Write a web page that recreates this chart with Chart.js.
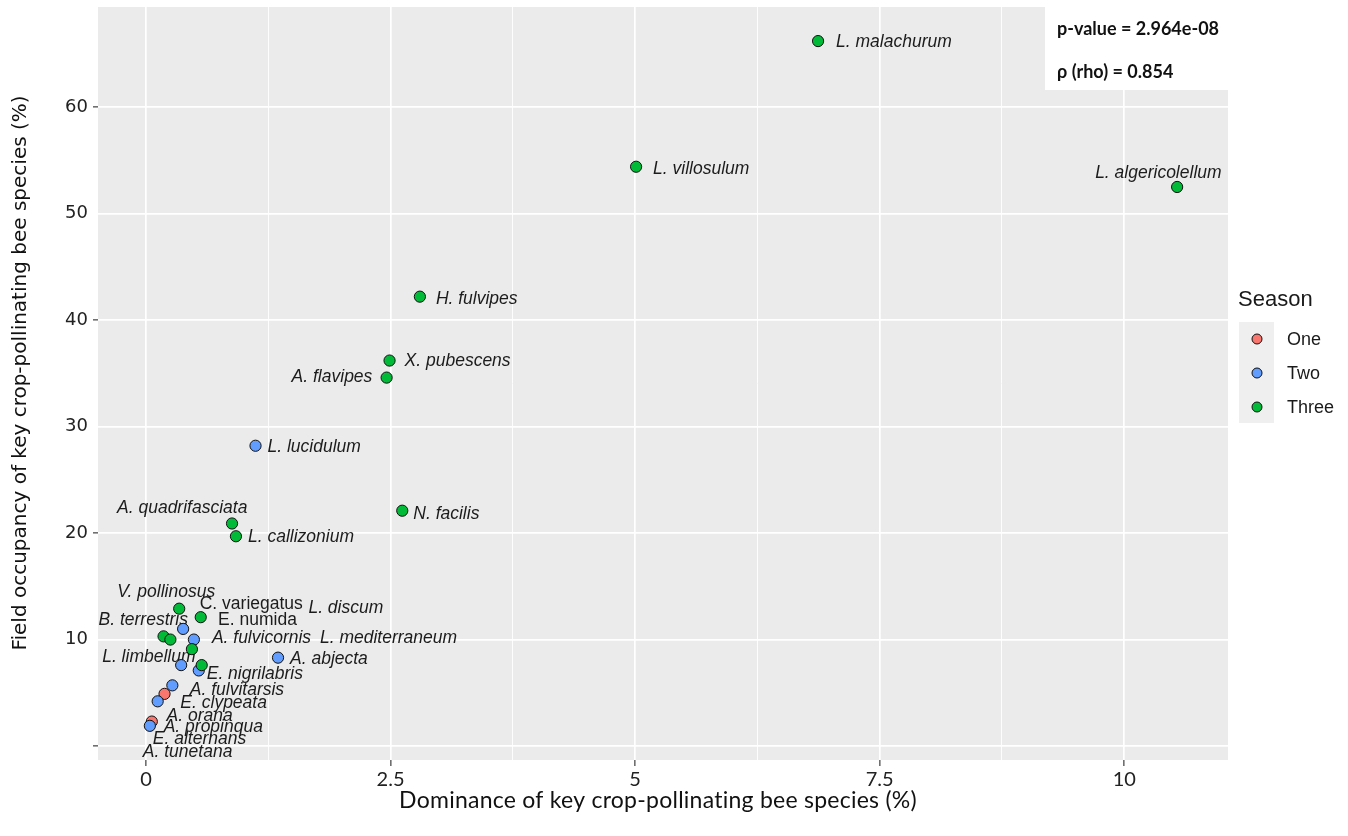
<!DOCTYPE html>
<html>
<head>
<meta charset="utf-8">
<script src="https://cdn.jsdelivr.net/npm/chart.js@4/dist/chart.umd.min.js"></script>
<style>
  html, body { margin: 0; padding: 0; background: #ffffff; }
  #wrap { width: 1348px; height: 836px; position: relative; }
</style>
</head>
<body>
<div id="wrap"><canvas id="chart" width="1348" height="836"></canvas></div>
<script>
// Bee species: dominance (%) vs field occupancy (%), coloured by number of seasons
const species = [
  'L. malachurum', 'L. villosulum', 'L. algericolellum', 'H. fulvipes', 'X. pubescens',
  'A. flavipes', 'L. lucidulum', 'N. facilis', 'A. quadrifasciata', 'L. callizonium',
  'V. pollinosus', 'C. variegatus', 'E. numida', 'B. terrestris', 'L. discum',
  'A. fulvicornis', 'L. mediterraneum', 'A. abjecta', 'L. limbellum', 'E. nigrilabris',
  'A. fulvitarsis', 'E. clypeata', 'A. orana', 'A. propinqua', 'E. alternans', 'A. tunetana'
];
const dominance = [
  6.87, 5.01, 10.54, 2.80, 2.49,
  2.46, 1.12, 2.62, 0.88, 0.92,
  0.34, 0.56, 0.38, 0.18, 0.25,
  0.49, 0.47, 1.35, 0.36, 0.57,
  0.54, 0.27, 0.19, 0.12, 0.06, 0.04
];
const occupancy = [
  66.2, 54.4, 52.5, 42.2, 36.2,
  34.6, 28.2, 22.1, 20.9, 19.7,
  12.9, 12.1, 11.0, 10.3, 10.0,
  10.0, 9.1, 8.3, 7.6, 7.6,
  7.1, 5.7, 4.9, 4.2, 2.3, 1.9
];
const season = [
  'Three', 'Three', 'Three', 'Three', 'Three',
  'Three', 'Two', 'Three', 'Three', 'Three',
  'Three', 'Three', 'Two', 'Three', 'Three',
  'Two', 'Three', 'Two', 'Two', 'Three',
  'Two', 'Two', 'One', 'Two', 'One', 'Two'
];
const seasons = ['One', 'Two', 'Three'];
const seasonColours = ['#F8766D', '#619CFF', '#00BA38'];

const xTickValues = [0, 2.5, 5, 7.5, 10];
const xTickLabels = ['0', '2.5', '5', '7.5', '10'];
const yTickValues = [0, 10, 20, 30, 40, 50, 60];
const yTickLabels = ['', '10', '20', '30', '40', '50', '60'];
const yTickMarked = [0, 20, 40, 60];

const pValueText = 'p-value = 2.964e-08';
const rhoText = 'ρ (rho) = 0.854';
const xTitle = 'Dominance of key crop-pollinating bee species (%)';
const yTitle = 'Field occupancy of key crop-pollinating bee species (%)';
const legendTitle = 'Season';

// Text placement of each species name relative to its point (pixels), repelled by hand
const labelNudge = [
  [18, 1], [17, 2], [-82, -14], [16, 2], [15, 1],
  [-95, 0], [12, 1], [11, 3], [-115, -15], [12, 1],
  [-62, -17], [-1, -13], [35, -9], [-65, -16], [138, -31],
  [18, -1], [128, -11], [12, 1], [-79, -8], [5, 9],
  [-9, 20], [8, 18], [2, 22], [6, 26], [1, 18], [-7, 26]
];
const uprightNames = ['C. variegatus', 'E. numida'];

// Minor grid positions sit halfway between labelled x ticks
const xGridValues = [];
xTickValues.forEach((v, i) => {
  xGridValues.push(v);
  if (i < xTickValues.length - 1) xGridValues.push((v + xTickValues[i + 1]) / 2);
});

const datasets = seasons.map((s, si) => {
  const pts = [];
  species.forEach((name, i) => {
    if (season[i] === s) pts.push({ x: dominance[i], y: occupancy[i], idx: i });
  });
  return {
    label: s,
    data: pts,
    backgroundColor: seasonColours[si],
    borderColor: '#111111',
    borderWidth: 1,
    pointRadius: 5.6,
    pointHoverRadius: 5.6,
    order: 3 - si
  };
});

const panelBg = {
  id: 'panelBg',
  beforeDraw(chart) {
    const { ctx, chartArea: a } = chart;
    ctx.save();
    ctx.fillStyle = '#EBEBEB';
    ctx.fillRect(a.left, a.top, a.right - a.left, a.bottom - a.top);
    ctx.restore();
  }
};

const speciesLabels = {
  id: 'speciesLabels',
  beforeDatasetsDraw(chart) {
    const ctx = chart.ctx;
    ctx.save();
    ctx.fillStyle = '#1c1c1c';
    ctx.textBaseline = 'middle';
    ctx.textAlign = 'left';
    chart.data.datasets.forEach((ds, di) => {
      const meta = chart.getDatasetMeta(di);
      meta.data.forEach((el, j) => {
        const i = ds.data[j].idx;
        const name = species[i];
        const italic = uprightNames.indexOf(name) === -1;
        ctx.font = (italic ? 'italic ' : '') + '17.5px "Liberation Sans", Arial, sans-serif';
        ctx.fillText(name, el.x + labelNudge[i][0], el.y + labelNudge[i][1]);
      });
    });
    ctx.restore();
  }
};

const decorations = {
  id: 'decorations',
  afterDatasetsDraw(chart) {
    const { ctx, chartArea: a } = chart;
    ctx.save();
    // statistics box in the top-right corner of the panel
    ctx.fillStyle = '#ffffff';
    ctx.fillRect(1045, 0, a.right - 1045 + 2, 90);
    ctx.fillStyle = '#111111';
    ctx.font = 'bold 18px Lato, "Open Sans", sans-serif';
    ctx.textAlign = 'left';
    ctx.textBaseline = 'middle';
    ctx.fillText(pValueText, 1057, 29);
    ctx.fillText(rhoText, 1057, 72);
    ctx.restore();
  },
  afterDraw(chart) {
    const { ctx } = chart;
    ctx.save();
    // axis titles
    ctx.fillStyle = '#111111';
    ctx.textAlign = 'center';
    ctx.textBaseline = 'middle';
    ctx.font = '23px Lato, "Open Sans", sans-serif';
    if ('letterSpacing' in ctx) ctx.letterSpacing = '0.25px';
    ctx.fillText(xTitle, 658, 801);
    if ('letterSpacing' in ctx) ctx.letterSpacing = '0px';
    ctx.save();
    ctx.translate(21, 373);
    ctx.rotate(-Math.PI / 2);
    ctx.font = '20px "DejaVu Sans", sans-serif';
    ctx.fillText(yTitle, 0, 0);
    ctx.restore();

    // legend
    ctx.textAlign = 'left';
    ctx.font = '22px "Liberation Sans", Arial, sans-serif';
    ctx.fillStyle = '#1a1a1a';
    ctx.fillText(legendTitle, 1238, 300);
    ctx.fillStyle = '#EFEFEF';
    ctx.fillRect(1239, 322, 35, 101);
    const rows = [339, 373, 407];
    seasons.forEach((s, si) => {
      ctx.beginPath();
      ctx.arc(1257, rows[si], 5, 0, Math.PI * 2);
      ctx.fillStyle = seasonColours[si];
      ctx.fill();
      ctx.lineWidth = 1;
      ctx.strokeStyle = '#111111';
      ctx.stroke();
      ctx.fillStyle = '#1a1a1a';
      ctx.font = '18px "Liberation Sans", Arial, sans-serif';
      ctx.fillText(s, 1287, rows[si] + 1);
    });
    ctx.restore();
  }
};

new Chart(document.getElementById('chart'), {
  type: 'scatter',
  data: { datasets },
  options: {
    responsive: false,
    animation: false,
    events: [],
    layout: { padding: { left: 0, right: 120, top: 7, bottom: 0 } },
    plugins: { legend: { display: false }, tooltip: { enabled: false } },
    scales: {
      x: {
        type: 'linear',
        min: -0.49,
        max: 11.06,
        afterBuildTicks(scale) { scale.ticks = xGridValues.map(v => ({ value: v })); },
        afterFit(scale) {
          scale.height = 76;
          scale.paddingLeft = 0;
          scale.paddingRight = 0;
        },
        border: { display: false },
        grid: {
          color: '#ffffff',
          lineWidth: c => (xTickValues.indexOf(c.tick.value) >= 0 ? 1.7 : 0.9),
          drawTicks: true,
          tickLength: 6,
          tickWidth: 1.3,
          tickColor: c => (xTickValues.indexOf(c.tick.value) >= 0 ? '#4d4d4d' : 'rgba(0,0,0,0)')
        },
        ticks: {
          autoSkip: false,
          maxRotation: 0,
          padding: 2,
          color: '#222222',
          font: { family: 'Lato, "Open Sans", sans-serif', size: 20 },
          callback: v => {
            const k = xTickValues.indexOf(v);
            return k >= 0 ? xTickLabels[k] : '';
          }
        }
      },
      y: {
        type: 'linear',
        min: -1.31,
        max: 69.4,
        afterBuildTicks(scale) { scale.ticks = yTickValues.map(v => ({ value: v })); },
        afterFit(scale) {
          scale.width = 98;
          scale.paddingTop = 0;
          scale.paddingBottom = 0;
        },
        border: { display: false },
        grid: {
          color: '#ffffff',
          lineWidth: 1.7,
          drawTicks: true,
          tickLength: 5,
          tickWidth: 1.3,
          tickColor: c => (yTickMarked.indexOf(c.tick.value) >= 0 ? '#4d4d4d' : 'rgba(0,0,0,0)')
        },
        ticks: {
          autoSkip: false,
          padding: 5,
          color: '#222222',
          font: { family: '"DejaVu Sans", sans-serif', size: 18 },
          callback: v => {
            const k = yTickValues.indexOf(v);
            return k >= 0 ? yTickLabels[k] : '';
          }
        }
      }
    }
  },
  plugins: [panelBg, speciesLabels, decorations]
});
</script>
</body>
</html>
